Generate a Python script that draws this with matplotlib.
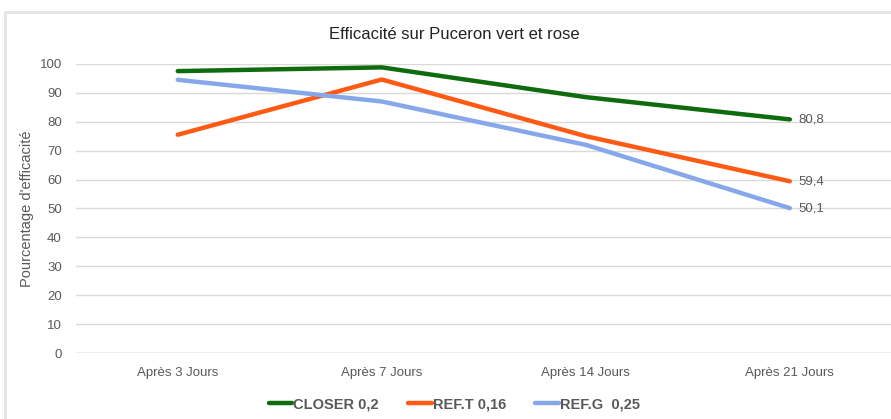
import matplotlib.pyplot as plt
from matplotlib.patches import Rectangle

categories = ['Après 3 Jours', 'Après 7 Jours', 'Après 14 Jours', 'Après 21 Jours']
closer = [97.5, 98.8, 88.5, 80.8]
ref_t = [75.5, 94.6, 75.0, 59.4]
ref_g = [94.5, 87.0, 72.0, 50.1]
series_names = ['CLOSER 0,2', 'REF.T 0,16', 'REF.G  0,25']
colors = ['#0e6b0e', '#ff5a14', '#86a8ea']

plt.rcParams['font.family'] = ['Liberation Sans', 'DejaVu Sans']

fig = plt.figure(figsize=(8.91, 4.19), dpi=100)
fig.patches.append(Rectangle((0.006, -0.05), 1.0, 1.022, transform=fig.transFigure,
                             fill=False, edgecolor='#e4e4e4', linewidth=2))
ax = fig.add_axes([0.085, 0.1575, 0.916, 0.69])

x = range(len(categories))
for vals, name, c in zip([closer, ref_t, ref_g], series_names, colors):
    ax.plot(x, vals, color=c, linewidth=3.2, label=name, solid_capstyle='round')
    ax.text(len(vals) - 1 + 0.04, vals[-1], f'{vals[-1]:.1f}'.replace('.', ','),
            va='center', ha='left', fontsize=9.5, color='#595959')

ax.set_xlim(-0.5, 3.5)
ax.set_ylim(0, 100)
ax.set_yticks(range(0, 101, 10))
ax.set_xticks(list(x))
ax.set_xticklabels(categories)
ax.tick_params(length=0, labelsize=9.5, colors='#595959')
ax.tick_params(axis='y', pad=10)
ax.tick_params(axis='x', pad=10)
ax.grid(axis='y', color='#d9d9d9', linewidth=1)
ax.set_axisbelow(True)
for s in ax.spines.values():
    s.set_visible(False)
ax.axhline(0, color='#bfbfbf', linewidth=1, zorder=0)

ax.set_ylabel("Pourcentage d'efficacité", fontsize=10.5, color='#595959', labelpad=4)
fig.text(0.51, 0.917, 'Efficacité sur Puceron vert et rose', ha='center', va='center',
         fontsize=12, color='#222222')

fig.legend(loc='center', bbox_to_anchor=(0.51, 0.035), ncol=3, frameon=False,
           handlelength=1.6, handletextpad=0.1, columnspacing=2.0,
           prop={'weight': 'bold', 'size': 10.5}, labelcolor='#595959')

fig.savefig('out.png', dpi=100)
